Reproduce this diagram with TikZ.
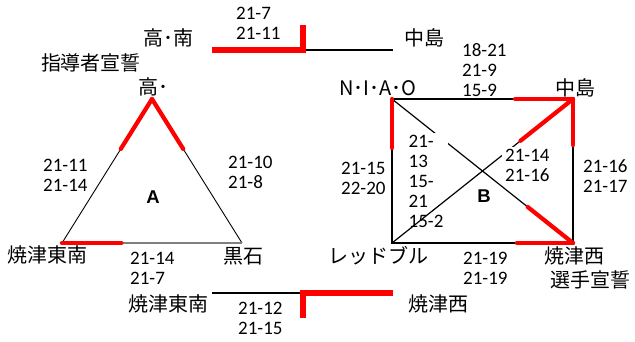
\documentclass[tikz,border=0pt]{standalone}
\usepackage{fontspec}
\setmainfont{Carlito}
\newfontfamily\jpf{Noto Sans CJK JP}
\newfontfamily\arf{Liberation Sans}
\usetikzlibrary{calc}
\newcommand\scf{\fontsize{19}{20}\selectfont}
\newcommand\jpsz{\jpf\fontsize{20}{22}\selectfont}
\begin{document}
\begin{tikzpicture}[x=1pt,y=-1pt,
  redb/.style={draw=red, line width=5.5pt, line join=miter},
  redt/.style={draw=red, line width=4.2pt, line cap=round},
  blk/.style={draw=black, line width=1.8pt},
  tri/.style={draw=black, line width=0.9pt},
  trib/.style={draw=gray, line width=1.6pt},
  sq/.style={draw=black, line width=2pt},
  dg/.style={draw=black, line width=1.2pt},
  score/.style={font=\scf, align=left, inner sep=0pt, anchor=north west},
  jpn/.style={font=\jpsz, inner sep=0pt},
  big/.style={font=\arf\fontsize{18.5}{20}\selectfont\bfseries, inner sep=0pt}]
\useasboundingbox (0,0) rectangle (635,341);

% ---- top bracket ----
\node[jpn] (kn) at (168,38) {高･南};
\node[jpn] (nk1) at (424,38) {中島};
\node[score] (s1) at (236,7) {21-7\\21-11};
\coordinate (b1s) at (212,50);
\coordinate (b1m) at (303,50);
\coordinate (b1t) at (303,25);
\coordinate (b1e) at (393,50);
\draw[blk] (b1m) -- (b1e);
\draw[redb] (b1s) -- (b1m) -- (b1t);

% ---- bottom bracket ----
\node[jpn] (ytn2) at (168,304) {焼津東南};
\node[jpn] (yzn2) at (438,304) {焼津西};
\node[score] (s2) at (238,302) {21-12\\21-15};
\coordinate (b2s) at (212,293);
\coordinate (b2m) at (303,293);
\coordinate (b2b) at (303,318);
\coordinate (b2e) at (393,293);
\draw[blk] (b2s) -- (b2m);
\draw[redb] (b2e) -- (b2m) -- (b2b);

% ---- group A ----
\coordinate (ta) at (152,99);
\coordinate (tl) at (62,243);
\coordinate (tr) at (242,243);
\draw[tri] (tl) -- (ta) -- (tr);
\draw[trib] (tl) -- (tr);
\draw[redt] (ta) -- ($(ta)!0.347!(tl)$);
\draw[redt] (ta) -- ($(ta)!0.347!(tr)$);
\draw[redt] (tl) -- ($(tl)!0.33!(tr)$);
\node[jpn] (sd) at (91,63) {指導者宣誓};
\node[jpn, anchor=west] (ko) at (138,87) {高･};
\node[jpn] (ytn) at (48,255) {焼津東南};
\node[jpn] (kk) at (243,256) {黒石};
\node[big] (A) at (153,197) {A};
\node[score] (sa1) at (43,159) {21-11\\21-14};
\node[score] (sa2) at (228,156) {21-10\\21-8};
\node[score] (sa3) at (130,252) {21-14\\21-7};

% ---- group B ----
\coordinate (sTL) at (392,99);
\coordinate (sTR) at (573,99);
\coordinate (sBL) at (392,243);
\coordinate (sBR) at (573,243);
\draw[sq] (sTL) rectangle (sBR);
\draw[dg] (sTL) -- (sBR);
\node[score, fill=white, inner xsep=4.5pt, inner ysep=2pt] (sb3) at (404,133) {21-\\13\\15-\\21\\15-2};
\draw[dg] (sBL) -- (sTR);
\node[score, fill=white, inner xsep=3pt, inner ysep=2pt] (sb4) at (502,147) {21-14\\21-16};
\draw[redt] (sTR) -- ($(sTR)!0.32!(sTL)$);
\draw[redt] (sTR) -- ($(sTR)!0.32!(sBR)$);
\draw[redt] (sTL) -- ($(sTL)!0.34!(sBL)$);
\draw[redt] (sTR) -- ($(sTR)!0.29!(sBL)$);
\draw[redt] (sBR) -- ($(sBR)!0.25!(sTL)$);
\draw[redt] (sBR) -- ($(sBR)!0.31!(sBL)$);
\node[jpn] (niao) at (378,88) {N･I･A･O};
\node[jpn] (nk2) at (575,88) {中島};
\node[jpn] (rb) at (378,256) {レッドブル};
\node[jpn] (yzn) at (574,256) {焼津西};
\node[jpn] (sn) at (590,280) {選手宣誓};
\node[big] (B) at (484,196) {B};
\node[score] (sb1) at (462,43) {18-21\\21-9\\15-9};
\node[score] (sb2) at (341,162) {21-15\\22-20};
\node[score] (sb5) at (583,159) {21-16\\21-17};
\node[score] (sb6) at (463,252) {21-19\\21-19};
\end{tikzpicture}
\end{document}
